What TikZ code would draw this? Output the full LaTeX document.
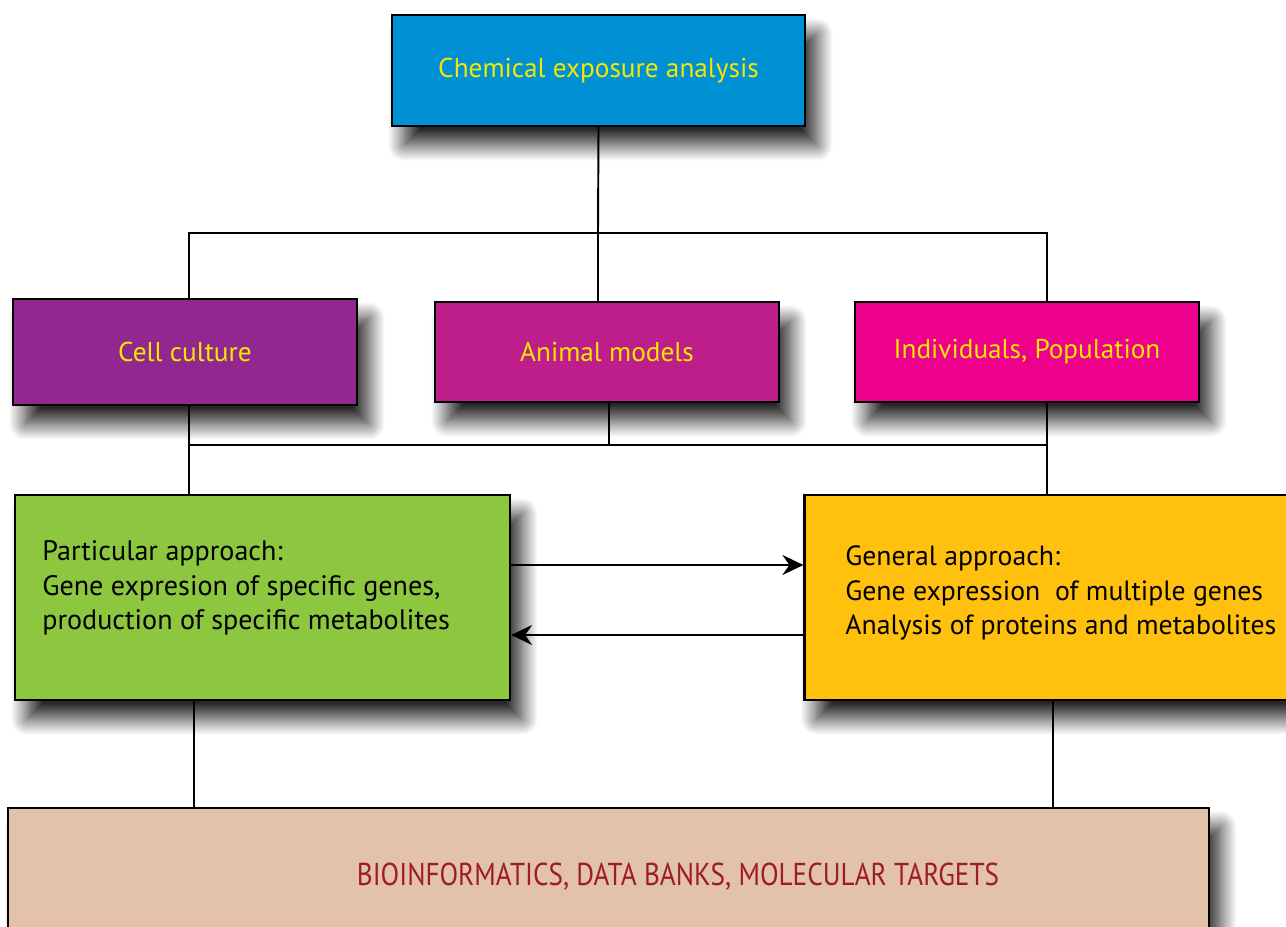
\documentclass[tikz,border=0pt]{standalone}
\usepackage{fontspec}
\setmainfont{PT Sans}
\usetikzlibrary{arrows.meta,shadows.blur}
\definecolor{chemblue}{RGB}{0,144,212}
\definecolor{cellpurple}{RGB}{146,39,143}
\definecolor{animalmag}{RGB}{190,30,140}
\definecolor{indivpink}{RGB}{236,0,140}
\definecolor{partgreen}{RGB}{141,198,63}
\definecolor{genyellow}{RGB}{255,193,14}
\definecolor{biosand}{RGB}{226,194,168}
\definecolor{biored}{RGB}{158,28,42}
\definecolor{txtyellow}{RGB}{245,232,0}

\tikzset{
	box/.style={draw=black,line width=1.3pt,rectangle,inner sep=0pt,
		blur shadow={shadow xshift=0.24cm,shadow yshift=-0.38cm,shadow blur radius=0.32cm,shadow blur steps=20,shadow opacity=85}},
	headtxt/.style={text=txtyellow,font=\fontsize{15.5}{18}\selectfont},
	bodytxt/.style={anchor=west,align=left,inner sep=0pt,font=\fontsize{16}{19.5}\selectfont},
	link/.style={line width=1.1pt}
}

\begin{document}
\begin{tikzpicture}[line cap=rect,line join=miter,>={Stealth[length=0.42cm,width=0.4cm,inset=0.14cm]},
			x=0.02cm,y=-0.02cm]
			\useasboundingbox (0,0) rectangle (1286,927);
			% top box and the three models
			\node[box,fill=chemblue,headtxt,minimum width=8.26cm,minimum height=2.22cm] (chem) at (598.5,70.5) {Chemical exposure analysis};
			\node[box,fill=cellpurple,headtxt,minimum width=6.88cm,minimum height=2.12cm] (cell) at (185,352) {Cell culture};
			\node[box,fill=animalmag,headtxt,minimum width=6.88cm,minimum height=2.0cm] (animal) at (607,352) {Animal models};
			\node[box,fill=indivpink,headtxt,minimum width=6.88cm,minimum height=2.0cm] (indiv) at (1027,352) {Individuals, Population};
			% the two approaches
			\node[box,fill=partgreen,minimum width=9.9cm,minimum height=4.1cm] (part) at (262.5,597.5) {};
			\node[box,fill=genyellow,minimum width=9.9cm,minimum height=4.1cm] (gen) at (1052,597.5) {};
			\node[bodytxt] (parttxt) at (42,588) {Particular approach:\\Gene expresion of specific genes,\\production of specific metabolites};
			\node[bodytxt,font=\fontsize{15.8}{19.5}\selectfont] (gentxt) at (845,593) {General approach:\\Gene expression\ \ of multiple genes\\Analysis of proteins and metabolites};
			% bottom
			\node[box,fill=biosand,minimum width=24.02cm,minimum height=2.8cm] (bio) at (608.5,878) {};
			\node[text=biored,font=\fontsize{18}{21}\selectfont] (biotxt) at (678,877) {\scalebox{0.86}[1]{BIOINFORMATICS, DATA BANKS, MOLECULAR TARGETS}};
			% columns and rows of the connectors
			\coordinate (hubA) at (598,233);
			\coordinate (hubB) at (609,445);
			\coordinate (colL) at (189,0);
			\coordinate (colR) at (1047,0);
			\coordinate (dnL) at (194,0);
			\coordinate (dnR) at (1053,0);
			\coordinate (rowT) at (0,565);
			\coordinate (rowB) at (0,635);
			\draw[link] (chem.south) -- (hubA);
			\draw[link] (colL |- cell.north) -- (colL |- hubA) -- (colR |- hubA) -- (colR |- indiv.north);
			\draw[link] (hubA) -- (hubA |- animal.north);
			\draw[link] (colL |- cell.south) -- (colL |- part.north);
			\draw[link] (colR |- indiv.south) -- (colR |- gen.north);
			\draw[link] (colL |- hubB) -- (colR |- hubB);
			\draw[link] (hubB |- animal.south) -- (hubB);
			\draw[link,->] (part.east |- rowT) -- (gen.west |- rowT);
			\draw[link,->] (gen.west |- rowB) -- (part.east |- rowB);
			\draw[link] (dnL |- part.south) -- (dnL |- bio.north);
			\draw[link] (dnR |- gen.south) -- (dnR |- bio.north);
\end{tikzpicture}
\end{document}
